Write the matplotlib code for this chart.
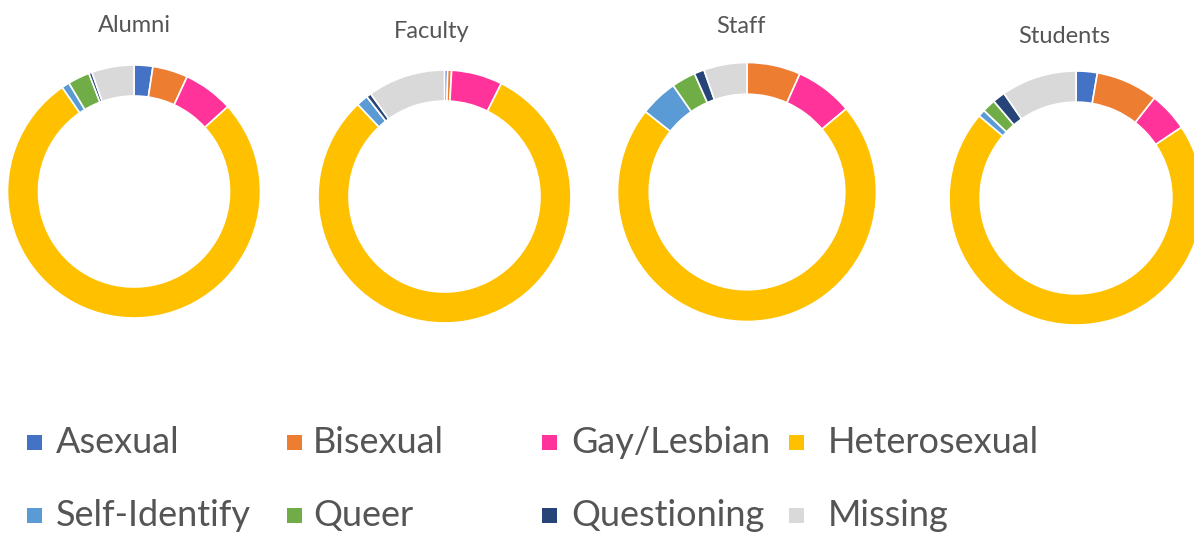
import matplotlib
matplotlib.use("Agg")
from matplotlib import pyplot as plt
from matplotlib.patches import Rectangle

################################################################################
# Data (percent of each group)
################################################################################

categories = ["Asexual", "Bisexual", "Gay/Lesbian", "Heterosexual",
              "Self-Identify", "Queer", "Questioning", "Missing"]
colors = ["#4472C4", "#ED7D31", "#FF3399", "#FFC000",
          "#5B9BD5", "#70AD47", "#264478", "#D9D9D9"]

groups = ["Alumni", "Faculty", "Staff", "Students"]
alumni = [2.4, 4.5, 6.4, 77.1, 1.0, 2.8, 0.4, 5.4]
faculty = [0.4, 0.5, 6.5, 80.4, 1.5, 0.0, 0.6, 9.9]
staff = [0.0, 6.7, 7.2, 71.8, 4.7, 3.0, 1.25, 5.4]
students = [2.7, 7.9, 5.0, 70.6, 0.9, 1.7, 1.6, 9.6]
group_values = [alumni, faculty, staff, students]

################################################################################
# Layout in pixels (figure is 1194 x 533)
################################################################################

W, H = 1194, 533
centers = [(134, 191.5), (444.5, 196.5), (747, 192), (1076, 198)]
radii = [126.5, 126.5, 129.5, 127]
title_pos = [(134, 32), (432, 38), (741, 33), (1064, 43)]

text_color = "#555555"
plt.rcParams["font.family"] = ["Lato", "DejaVu Sans"]

fig = plt.figure(figsize=(W / 100, H / 100), dpi=100)

for name, vals, (cx, cy), r, (tx, ty) in zip(groups, group_values, centers, radii, title_pos):
    ax = fig.add_axes([(cx - r) / W, (H - cy - r) / H, 2 * r / W, 2 * r / H])
    ax.pie(vals, colors=colors, startangle=90, counterclock=False, radius=1.0,
           wedgeprops=dict(width=0.245, edgecolor="white", linewidth=1.2))
    ax.set_xlim(-1.0, 1.0)
    ax.set_ylim(-1.0, 1.0)
    ax.axis("off")
    fig.text(tx / W, 1 - ty / H, name, ha="center", va="baseline",
             fontsize=17, color=text_color)

# legend, 4 columns x 2 rows like the Excel one
sq_x = [27, 287, 542, 789]
txt_x = [56, 313, 571, 828]
sq_y = [442.5, 515.5]
txt_y = [453, 526]
sq = 15

for i, (label, c) in enumerate(zip(categories, colors)):
    row, col = divmod(i, 4)
    fig.patches.append(Rectangle(((sq_x[col]) / W, 1 - (sq_y[row] + sq / 2) / H),
                                 sq / W, sq / H, transform=fig.transFigure,
                                 facecolor=c, edgecolor="none"))
    fig.text(txt_x[col] / W, 1 - txt_y[row] / H, label, ha="left", va="baseline",
             fontsize=26, color=text_color)

fig.savefig("out.png", dpi=100)
